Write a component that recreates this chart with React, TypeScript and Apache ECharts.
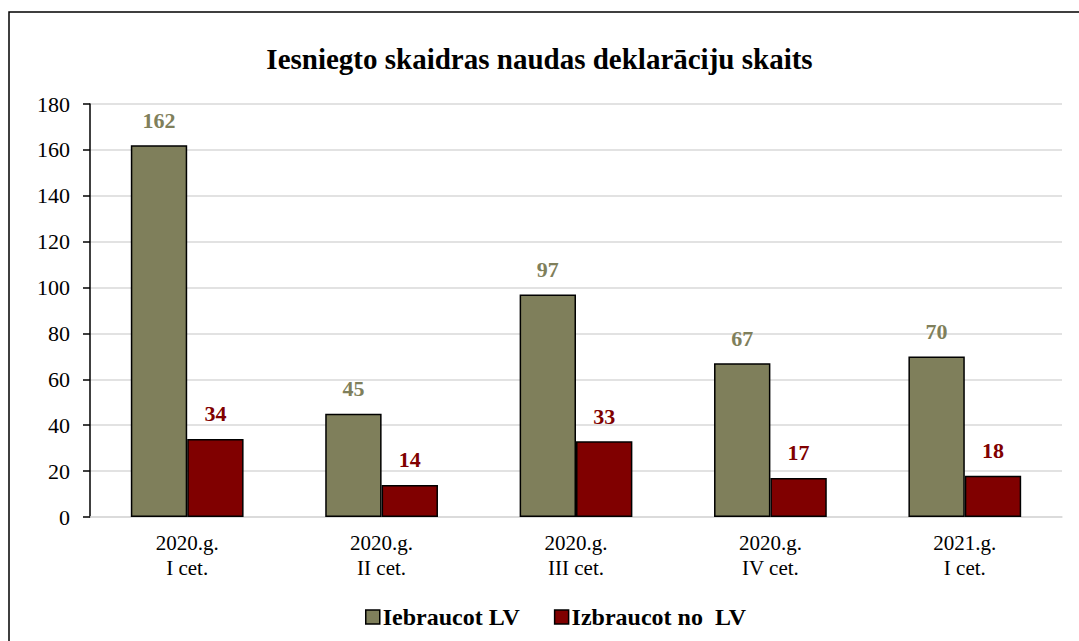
import React, { useEffect, useRef } from "react";
import * as echarts from "echarts";

const categories = ["2020.g.\nI cet.", "2020.g.\nII cet.", "2020.g.\nIII cet.", "2020.g.\nIV cet.", "2021.g.\nI cet."];
const iebraucot = [162, 45, 97, 67, 70];
const izbraucot = [34, 14, 33, 17, 18];
const seriesNames = ["Iebraucot LV", "Izbraucot no  LV"];
const titleText = "Iesniegto skaidras naudas deklarāciju skaits";

const FONT = "'Liberation Serif', 'Times New Roman', serif";

export default function App() {
  const ref = useRef<HTMLDivElement>(null);
  useEffect(() => {
    if (!ref.current) return;
    const chart = echarts.init(ref.current, undefined, { renderer: "svg" });
    chart.setOption({
      animation: false,
      backgroundColor: "#ffffff",
      graphic: [
        {
          type: "rect",
          shape: { x: 9, y: 12, width: 1100, height: 700 },
          style: { fill: "none", stroke: "#000", lineWidth: 1.5 },
          silent: true,
        },
      ],
      title: {
        text: titleText,
        left: "center",
        top: 39,
        textStyle: { fontFamily: FONT, fontSize: 29, fontWeight: "bold", color: "#000" },
      },
      legend: {
        left: 360,
        top: 600,
        itemWidth: 14,
        itemHeight: 14,
        itemGap: 34,
        icon: "rect",
        itemStyle: { borderColor: "#000", borderWidth: 1.5 },
        textStyle: { fontFamily: FONT, fontSize: 24, fontWeight: "bold", color: "#000", padding: [0, 0, 0, -2] },
        data: seriesNames,
      },
      grid: { left: 90, right: 17, top: 104, bottom: 124, containLabel: false, show: false },
      xAxis: {
        type: "category",
        data: categories,
        axisLine: { show: true, lineStyle: { color: "#d9d9d9", width: 1.5 } },
        axisTick: { show: false },
        axisLabel: { fontFamily: FONT, fontSize: 21, color: "#000", margin: 13, lineHeight: 25 },
      },
      yAxis: {
        type: "value",
        min: 0,
        max: 180,
        interval: 20,
        axisLine: { show: true, lineStyle: { color: "#000", width: 1.5 } },
        axisTick: { show: true, length: 7, lineStyle: { color: "#000", width: 1.5 } },
        axisLabel: { fontFamily: FONT, fontSize: 22, color: "#000", margin: 20 },
        splitLine: { show: true, lineStyle: { color: "#d9d9d9", width: 1.5 } },
      },
      series: [
        {
          name: seriesNames[0],
          type: "bar",
          data: iebraucot,
          barWidth: "29%",
          barGap: "0%",
          itemStyle: { color: "#7f7f5b", borderColor: "#000", borderWidth: 1.5 },
          label: {
            show: true,
            position: "top",
            distance: 14,
            fontFamily: FONT,
            fontSize: 22,
            fontWeight: "bold",
            color: "#7f7f5b",
          },
        },
        {
          name: seriesNames[1],
          type: "bar",
          data: izbraucot,
          barWidth: "29%",
          barGap: "0%",
          itemStyle: { color: "#800000", borderColor: "#000", borderWidth: 1.5 },
          label: {
            show: true,
            position: "top",
            distance: 14,
            fontFamily: FONT,
            fontSize: 22,
            fontWeight: "bold",
            color: "#800000",
          },
        },
      ],
    });
    return () => chart.dispose();
  }, []);
  return (
    <div
      ref={ref}
      style={{ position: "fixed", left: 0, top: 0, width: 1079, height: 641, background: "#fff" }}
    />
  );
}
